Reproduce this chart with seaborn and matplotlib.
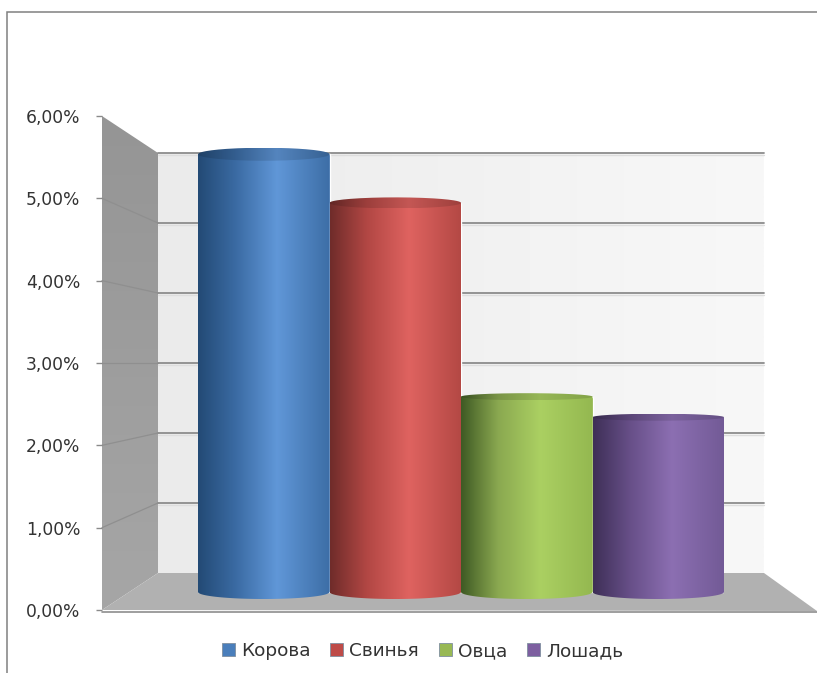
import numpy as np
import pandas as pd
import matplotlib
matplotlib.use("Agg")
import matplotlib.pyplot as plt
from matplotlib.colors import LinearSegmentedColormap, to_rgb
from matplotlib.patches import PathPatch, Polygon, Patch
from matplotlib.path import Path
import seaborn as sns

# ---- data ----
animals = ["Корова", "Свинья", "Овца", "Лошадь"]
shares = [5.76, 5.12, 2.57, 2.30]
axis_ticks = [0, 1, 2, 3, 4, 5, 6]
tick_labels = ["0,00%", "1,00%", "2,00%", "3,00%", "4,00%", "5,00%", "6,00%"]

# ---- style ----
base_colors = ["#4f81bd", "#c0504d", "#9bbb59", "#8064a2"]
legend_colors = ["#4a7ebb", "#be4b48", "#98b954", "#7d5fa0"]
gradients = [
    ["#234a75", "#3a6aa2", "#6097d8", "#3d6ea6"],
    ["#6f2c2a", "#b24744", "#df6360", "#b34844"],
    ["#3f5a24", "#8aa850", "#abd062", "#94b850"],
    ["#3e2f57", "#674f88", "#8c6fb2", "#725a96"],
]
grad_stops = [0.0, 0.28, 0.60, 1.0]
cap_px = [6.5, 5.5, 3.5, 3.5]
W, H = 817, 673
FRONT_X, BACK_L, BACK_R, RIGHT = 102, 158, 764, 817
FRONT_0, FRONT_6 = 610, 116
BACK_0, BACK_6 = 573, 153
BAR_X0, BAR_X1, BAR_0, BAR_PX = 198, 724, 592, 76.0
BOTTOM_PX = 7.0
TEXT = "#333333"

sns.set_theme(style="white")
plt.rcParams["font.family"] = ["DejaVu Sans"]

fig = plt.figure(figsize=(W / 100, H / 100), dpi=100, facecolor="white")


def box(x0, y_top, x1, y_bot):
    return [x0 / W, 1 - y_bot / H, (x1 - x0) / W, (y_bot - y_top) / H]


# ---- 3D room drawn behind the chart ----
scene = fig.add_axes([0, 0, 1, 1], zorder=1)
scene.set_xlim(0, W)
scene.set_ylim(H, 0)
scene.axis("off")

scene.plot([7, 7, W], [H, 12, 12], color="#808080", lw=1.1, solid_joinstyle="miter")

wall_cmap = LinearSegmentedColormap.from_list("wall", ["#ebebeb", "#f8f8f8"])
scene.imshow(np.linspace(0, 1, 256)[None, :], cmap=wall_cmap, aspect="auto",
             extent=(BACK_L, BACK_R, BACK_0, BACK_6), zorder=1)

side = Polygon([(FRONT_X, FRONT_6), (BACK_L, BACK_6), (BACK_L, BACK_0), (FRONT_X, FRONT_0)],
               closed=True, facecolor="none", edgecolor="none", zorder=2)
scene.add_patch(side)
side_cmap = LinearSegmentedColormap.from_list("side", ["#959595", "#a6a6a6"])
side_img = scene.imshow(np.linspace(0, 1, 256)[:, None], cmap=side_cmap, aspect="auto",
                        extent=(FRONT_X, BACK_L, FRONT_0, FRONT_6), zorder=2)
side_img.set_clip_path(side)

scene.add_patch(Polygon([(FRONT_X, FRONT_0), (BACK_L, BACK_0), (BACK_R, BACK_0), (RIGHT, FRONT_0 + 1)],
                        closed=True, facecolor="#b1b1b1", edgecolor="none", zorder=2))
scene.plot([FRONT_X, RIGHT], [FRONT_0 + 1.5, FRONT_0 + 1.5], color="#8e8e8e", lw=1.2, zorder=3)

for t in axis_ticks[1:]:
    y_front = FRONT_0 + (FRONT_6 - FRONT_0) * t / 6
    y_back = BACK_0 + (BACK_6 - BACK_0) * t / 6
    if t < 6:
        scene.plot([FRONT_X, BACK_L], [y_front, y_back], color="#8f8f8f", lw=0.9, zorder=3)
    scene.plot([BACK_L, BACK_R], [y_back, y_back], color="#8c8c8c", lw=1.3, zorder=3)
    scene.plot([BACK_L, BACK_R], [y_back + 2, y_back + 2], color="#dddddd", lw=1.0, zorder=3)
scene.set_xlim(0, W)
scene.set_ylim(H, 0)

# ---- value axis on the front edge ----
ax_val = fig.add_axes(box(FRONT_X, FRONT_6, FRONT_X + 10, FRONT_0), zorder=2, facecolor="none")
ax_val.set_ylim(0, 6)
ax_val.set_yticks(axis_ticks)
ax_val.set_yticklabels(tick_labels, fontsize=12.3, color=TEXT)
ax_val.set_xticks([])
ax_val.tick_params(axis="y", left=True, length=4.5, width=1.0, color="#8a8a8a", pad=11)
for s in ax_val.spines.values():
    s.set_visible(False)

# ---- cylinders: real seaborn bars, shaded on top ----
df = pd.DataFrame({"animal": animals, "share": shares})
ax = fig.add_axes(box(BAR_X0, FRONT_6, BAR_X1, BAR_0 + 24), zorder=3, facecolor="none")
sns.barplot(data=df, x="animal", y="share", hue="animal", palette=base_colors,
            width=1.0, dodge=False, legend=False, ax=ax, saturation=1)
ylim = (-24 / BAR_PX, (BAR_0 - FRONT_6) / BAR_PX)
xlim = (-0.5, 3.5)
t = np.linspace(0, np.pi, 80)

for i, bar in enumerate(ax.patches):
    x0, w, v = bar.get_x(), bar.get_width(), bar.get_height()
    xc = x0 + w / 2
    cmap = LinearSegmentedColormap.from_list(f"cyl{i}", list(zip(grad_stops, gradients[i])))
    grad = np.linspace(0, 1, 256)[None, :]
    bar.set_zorder(2 + i)
    bot = BOTTOM_PX / BAR_PX
    cap = cap_px[i] / BAR_PX
    verts = [(x0, v), (x0 + w, v)] + [(xc + w / 2 * np.cos(a), -bot * np.sin(a)) for a in t] + [(x0, v)]
    body = PathPatch(Path(verts), transform=ax.transData, facecolor="none", edgecolor="none")
    ax.add_patch(body)
    img = ax.imshow(grad, cmap=cmap, aspect="auto", extent=(x0, x0 + w, -bot, v), zorder=3 + i)
    img.set_clip_path(body)
    full = np.linspace(0, 2 * np.pi, 160)
    cap_verts = [(xc + w / 2 * np.cos(a), v + cap * np.sin(a)) for a in full]
    cap_patch = PathPatch(Path(cap_verts), transform=ax.transData, facecolor="none", edgecolor="none")
    ax.add_patch(cap_patch)
    shade = [tuple(c * 0.88 for c in to_rgb(col)) for col in gradients[i]]
    cmap_cap = LinearSegmentedColormap.from_list(f"cap{i}", list(zip(grad_stops, shade)))
    img2 = ax.imshow(grad, cmap=cmap_cap, aspect="auto", extent=(x0, x0 + w, v - cap, v + cap), zorder=3.5 + i)
    img2.set_clip_path(cap_patch)

ax.set_xlim(*xlim)
ax.set_ylim(*ylim)
ax.axis("off")

# ---- legend ----
handles = [Patch(facecolor=c, edgecolor="#7f8fa0", linewidth=0.6, label=a)
           for c, a in zip(legend_colors, animals)]
fig.legend(handles=handles, loc="center", bbox_to_anchor=(422.5 / W, 1 - 651 / H), ncol=4,
           frameon=False, fontsize=13.3, labelcolor=TEXT, handlelength=0.72, handleheight=0.72,
           handletextpad=0.32, columnspacing=1.06, borderpad=0, borderaxespad=0)

fig.savefig("out.png", dpi=100)
